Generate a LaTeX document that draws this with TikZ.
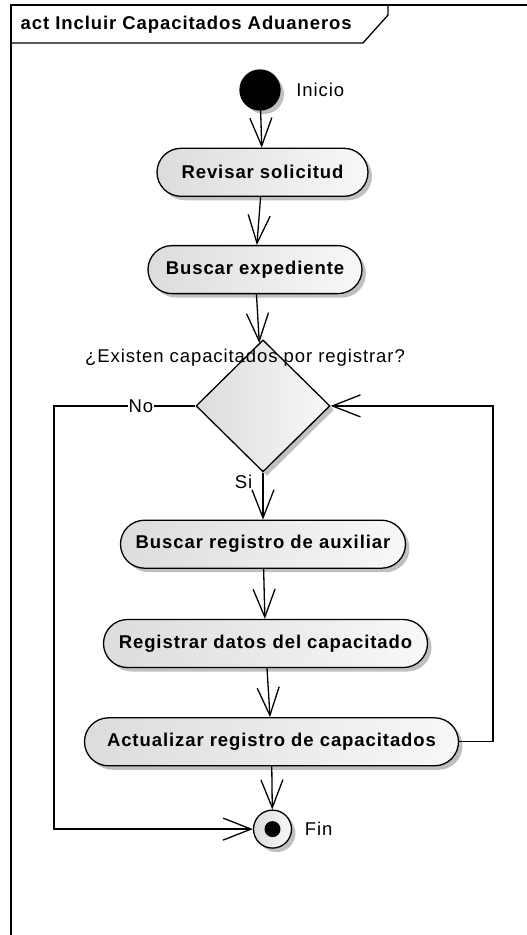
\documentclass[tikz,border=0pt]{standalone}
\usepackage{fontspec}
\setmainfont{Liberation Sans}[LetterSpace=5]
\usetikzlibrary{shapes.geometric, arrows.meta, positioning, shadows}
\definecolor{actLeft}{RGB}{220,220,220}
\definecolor{actRight}{RGB}{248,248,248}
\definecolor{shadowGray}{RGB}{192,192,192}
\newcommand{\diagfont}{\fontsize{18.5}{21}\selectfont}

\begin{document}
\begin{tikzpicture}[
    x=1pt, y=-1pt, line width=1.3pt,
    action/.style={rectangle, draw, rounded corners=24pt, minimum height=48pt, left color=actLeft, right color=actRight, font=\diagfont\bfseries, drop shadow={shadow xshift=4pt, shadow yshift=-4pt, fill=shadowGray, opacity=1}},
    decision/.style={diamond, draw, minimum width=134pt, minimum height=132pt, inner sep=0pt, left color=actLeft, right color=actRight, drop shadow={shadow xshift=4pt, shadow yshift=-4pt, fill=shadowGray, opacity=1}},
    initial/.style={circle, draw, fill=black, minimum size=40pt, inner sep=0pt, drop shadow={shadow xshift=4pt, shadow yshift=-4pt, fill=shadowGray, opacity=1}},
    final/.style={circle, draw, minimum size=38pt, inner sep=0pt, left color=actLeft, right color=actRight, drop shadow={shadow xshift=4pt, shadow yshift=-4pt, fill=shadowGray, opacity=1}},
    lbl/.style={font=\diagfont, inner sep=0pt},
    flow/.style={-{Straight Barb[length=28pt, width=22pt]}}
]
\useasboundingbox (0,0) rectangle (527,935);

% frame
\draw (11,935) -- (11,5) -- (527,5);
\draw (11,43) -- (363,43) -- (388,15) -- (388,5);
\node[font=\diagfont\bfseries, anchor=west, inner sep=0pt] (title) at (20,25) {act Incluir Capacitados Aduaneros};

\node[initial] (start) at (260,90) {};
\node[lbl, right=15pt of start] (inicio) {Inicio};
\node[action, minimum width=211pt, below=37pt of start, xshift=2.5pt] (revisar) {Revisar solicitud};
\node[action, minimum width=214pt, below=48pt of revisar, xshift=-7.5pt] (buscarexp) {Buscar expediente};
\node[decision, below=45pt of buscarexp, xshift=8pt] (existen) {};
\node[lbl] (pregunta) at (245,358) {¿Existen capacitados por registrar?};
\node[action, minimum width=285pt, below=47pt of existen] (buscarreg) {Buscar registro de auxiliar};
\node[action, minimum width=324pt, below=50pt of buscarreg, xshift=2.5pt] (registrar) {Registrar datos del capacitado};
\node[action, minimum width=374pt, below=49pt of registrar, xshift=6pt] (actualizar) {Actualizar registro de capacitados};
\node[final, below=43pt of actualizar, xshift=1pt] (fin) {};
\fill (fin) circle (8pt);
\node[lbl, right=12pt of fin] (finlabel) {Fin};

\coordinate (leftrail) at (54,0);
\coordinate (rightrail) at (493,0);

\draw[flow] (start) -- (revisar);
\draw[flow] (revisar) -- (buscarexp);
\draw[flow] (buscarexp) -- (existen);
\draw[flow] (existen) -- node[lbl, pos=0.2, left=10pt] {Si} (buscarreg);
\draw[flow] (buscarreg) -- (registrar);
\draw[flow] (registrar) -- (actualizar);
\draw[flow] (actualizar) -- (fin);
\draw[flow] (existen.west) -- node[lbl, fill=white, inner sep=1pt, pos=0.385] {No} (existen.west -| leftrail) |- (fin);
\draw[flow] (actualizar.east) -- (actualizar.east -| rightrail) |- (existen.east);
\end{tikzpicture}
\end{document}
